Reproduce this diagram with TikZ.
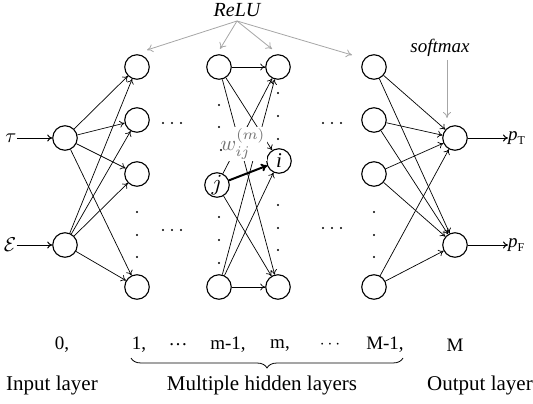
\documentclass[tikz,border=0pt]{standalone}
\usepackage{fontspec}
\setmainfont{Liberation Serif}
\usetikzlibrary{arrows.meta,decorations.pathreplacing}
\begin{document}
\begin{tikzpicture}[x=1pt,y=-1pt,
 neuron/.style={circle,draw,line width=1.1pt,minimum size=24.5pt,inner sep=0pt,font=\fontsize{21}{22}\selectfont},
 conn/.style={-{To[length=5pt,width=7pt]},line width=0.7pt},
 thickconn/.style={-{To[length=6pt,width=8pt]},line width=2pt},
 gconn/.style={-{To[length=6pt,width=8pt]},line width=0.8pt,draw=black!35},
 dotc/.style={circle,fill,inner sep=0pt,minimum size=2.2pt},
 txt/.style={font=\fontsize{19}{22}\selectfont,inner sep=0pt},
 mth/.style={font=\normalsize,scale=2,inner sep=0pt},
 big/.style={font=\fontsize{21}{24}\selectfont,inner sep=0pt},
 lbl/.style={font=\fontsize{19}{22}\selectfont\itshape,inner sep=0pt}
]
\useasboundingbox (0,0) rectangle (533,404);

% input layer
\node[neuron] (in1) at (65,138) {};
\node[neuron] (in2) at (65,245) {};
% layer 1
\node[neuron] (a1) at (137,67) {};
\node[neuron] (a2) at (137,120) {};
\node[neuron] (a3) at (137,174) {};
\node[neuron] (a4) at (137,287) {};
% layer m-1
\node[neuron] (b1) at (219,67) {};
\node[neuron] (b2) at (217,185) {};
\node[mth,scale=1.15] (jl) at (b2) {$j$};
\node[neuron] (b3) at (219,287) {};
% layer m
\node[neuron] (c1) at (278,67) {};
\node[neuron] (c2) at (279,161) {\textit{i}};
\node[neuron] (c3) at (278,287) {};
% layer M-1
\node[neuron] (d1) at (374,67) {};
\node[neuron] (d2) at (374,120) {};
\node[neuron] (d3) at (374,174) {};
\node[neuron] (d4) at (374,287) {};
% output
\node[neuron] (o1) at (455,138) {};
\node[neuron] (o2) at (455,245) {};

% inputs
\node[mth] (tau) at (11,138) {$\tau$};
\node[mth] (eps) at (10,245) {$\mathcal{E}$};
\draw[conn,line width=1pt] (tau.east) -- (in1);
\draw[conn,line width=1pt] (eps.east) -- (in2);

% input -> layer 1
\foreach \s in {in1,in2}
  \foreach \t in {a1,a2,a3,a4}
    \draw[conn] (\s) -- (\t);

% layer m-1 -> layer m
\foreach \s in {b1,b3}
  \foreach \t in {c1,c2,c3}
    \draw[conn] (\s) -- (\t);
\draw[conn] (b2) -- (c1);
\draw[conn] (b2) -- (c3);
\draw[thickconn] (b2) -- (c2);
\node[mth,text=black!55,fill=white,inner sep=0.6pt,scale=1.05] (w) at (243,144) {$w_{ij}^{(m)}$};

% layer M-1 -> output
\foreach \s in {d1,d2,d3,d4}
  \foreach \t in {o1,o2}
    \draw[conn] (\s) -- (\t);

% vertical dots
\foreach \x/\y in {137/212,137/235,137/257,
  219/105,219/127,221/150,219/217,219/240,219/263,
  278/93,278/116,278/139,278/205,278/228,278/250,
  374/212,374/235,374/257,
  163/123,172/123,181/123,163/230,172/230,181/230,
  323/123,332/123,341/123,323/228,332/228,341/228}
  \node[dotc] at (\x,\y) {};

% outputs
\node[lbl,anchor=west] (pT) at (508,138) {p\raisebox{-4pt}{\fontsize{12}{12}\selectfont\upshape T}};
\node[lbl,anchor=west] (pF) at (508,245) {p\raisebox{-4pt}{\fontsize{12}{12}\selectfont\upshape F}};
\draw[conn,line width=1pt] (o1) -- (pT.west);
\draw[conn,line width=1pt] (o2) -- (pF.west);

% ReLU
\node[lbl,font=\fontsize{20}{22}\selectfont\itshape] (relu) at (237,10) {ReLU};
\coordinate (r0) at (237,21);
\coordinate (r1) at (147,50);
\coordinate (r2) at (220,49);
\coordinate (r3) at (272,49);
\coordinate (r4) at (352,55);
\foreach \t in {r1,r2,r3,r4}
  \draw[gconn] (r0) -- (\t);

% softmax
\node[lbl] (soft) at (440,48) {softmax};
\coordinate (s0) at (447,60);
\coordinate (s1) at (447,118);
\draw[gconn] (s0) -- (s1);

% bottom row
\node[txt] (n0) at (62,345) {0,};
\node[txt] (n1) at (139,345) {1,};
\node[txt] (n2) at (178,345) {\dots};
\node[txt] (n3) at (228,345) {m-1,};
\node[txt] (n4) at (280,345) {m,};
\node[txt] (n5) at (330,345) {$\cdots$};
\node[txt] (n6) at (385,345) {M-1,};
\node[txt] (n7) at (455,345) {M};

\coordinate (bl) at (131,358);
\coordinate (br) at (403,358);
\draw[line width=0.8pt,decorate,decoration={brace,mirror,amplitude=10pt}] (bl) -- (br);

\node[big] (lin) at (52,385) {Input layer};
\node[big] (lhid) at (262,385) {Multiple hidden layers};
\node[big] (lout) at (480,385) {Output layer};
\end{tikzpicture}
\end{document}
